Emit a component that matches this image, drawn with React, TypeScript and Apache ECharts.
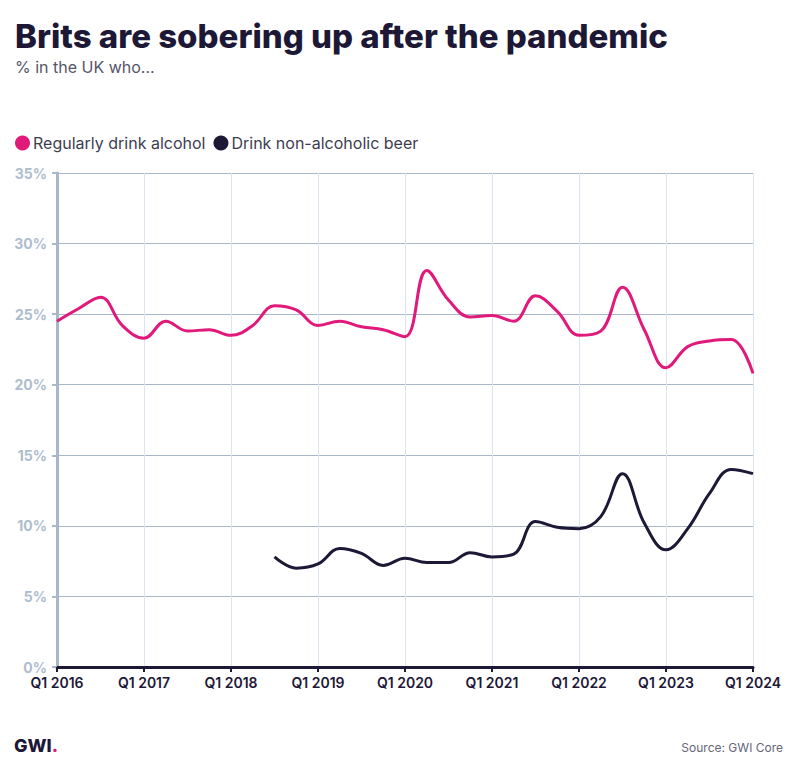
import React, { useEffect, useRef } from "react";
import * as echarts from "echarts";

const years = [2016, 2017, 2018, 2019, 2020, 2021, 2022, 2023];
const quarters: string[] = [];
years.forEach((y) => ["Q1", "Q2", "Q3", "Q4"].forEach((q) => quarters.push(`${q} ${y}`)));
quarters.push("Q1 2024");

const alcohol = [
  24.5, 25.4, 26.2, 24.2,
  23.3, 24.5, 23.8, 23.9,
  23.5, 24.2, 25.6, 25.3,
  24.2, 24.5, 24.1, 23.9,
  23.4, 28.1, 26.0, 24.8,
  24.9, 24.5, 26.3, 25.2,
  23.5, 23.8, 26.9, 23.9,
  21.2, 22.7, 23.1, 23.2,
  20.8,
];

const nonAlcBeer = [
  null, null, null, null,
  null, null, null, null,
  null, null, 7.8, 7.0,
  7.3, 8.4, 8.05, 7.2,
  7.7, 7.4, 7.4, 8.1,
  7.8, 8.0, 10.3, 9.9,
  9.8, 10.65, 13.7, 10.2,
  8.3, 9.8, 12.3, 14.0,
  13.7,
];

const seriesNames = ["Regularly drink alcohol", "Drink non-alcoholic beer"];
const yTicks = { min: 0, max: 35, interval: 5 };

const PINK = "#e0197a";
const NAVY = "#1c1836";
const FONT = "Inter, 'Noto Sans', sans-serif";

export default function App() {
  const ref = useRef<HTMLDivElement>(null);
  useEffect(() => {
    const chart = echarts.init(ref.current!, null, { renderer: "svg" });
    chart.setOption({
      animation: false,
      backgroundColor: "#ffffff",
      textStyle: { fontFamily: FONT },
      title: {
        left: 10,
        top: 14,
        text: "Brits are sobering up after the pandemic",
        subtext: "% in the UK who...",
        itemGap: 7,
        textStyle: { fontFamily: FONT, fontSize: 33, fontWeight: 800, color: NAVY },
        subtextStyle: { fontFamily: FONT, fontSize: 16, color: "#55556a" },
      },
      legend: {
        left: 10,
        top: 130,
        icon: "circle",
        itemWidth: 15,
        itemHeight: 15,
        itemGap: 8,
        textStyle: { fontFamily: FONT, fontSize: 16, color: "#3d3d50", padding: [0, 0, 0, -2] },
        data: seriesNames,
      },
      grid: { left: 57, right: 43, top: 173, bottom: 103, containLabel: false },
      xAxis: {
        type: "category",
        data: quarters,
        boundaryGap: false,
        axisLine: { show: true, lineStyle: { color: NAVY, width: 3 } },
        axisTick: { show: true, interval: 3, length: 5, lineStyle: { color: NAVY, width: 2 } },
        axisLabel: {
          interval: 3,
          margin: 8,
          color: NAVY,
          fontFamily: FONT,
          fontSize: 14,
          fontWeight: 600,
        },
        splitLine: { show: true, interval: 3, lineStyle: { color: "#dbe5f1", width: 1 } },
      },
      yAxis: {
        type: "value",
        min: yTicks.min,
        max: yTicks.max,
        interval: yTicks.interval,
        axisLine: { show: true, lineStyle: { color: "#a9b8c9", width: 3 } },
        axisTick: { show: true, length: 5, lineStyle: { color: "#a9b8c9", width: 2 } },
        axisLabel: {
          formatter: "{value}%",
          margin: 10,
          color: "#aebdcd",
          fontFamily: FONT,
          fontSize: 14,
          fontWeight: 700,
        },
        splitLine: { show: true, lineStyle: { color: "#a9b8c9", width: 1 } },
      },
      series: [
        {
          name: seriesNames[0],
          type: "line",
          data: alcohol,
          smooth: 0.4,
          symbol: "none",
          itemStyle: { color: PINK },
          lineStyle: { color: PINK, width: 3 },
          z: 3,
        },
        {
          name: seriesNames[1],
          type: "line",
          data: nonAlcBeer,
          smooth: 0.4,
          symbol: "none",
          connectNulls: false,
          itemStyle: { color: NAVY },
          lineStyle: { color: NAVY, width: 3 },
          z: 3,
        },
      ],
      graphic: [
        {
          type: "text",
          left: 14,
          top: 736,
          style: {
            text: "{a|GWI}{b|.}",
            rich: {
              a: { fontFamily: FONT, fontSize: 18, fontWeight: 800, fill: NAVY },
              b: { fontFamily: FONT, fontSize: 18, fontWeight: 800, fill: PINK },
            },
          },
        },
        {
          type: "text",
          right: 13,
          top: 741,
          style: {
            text: "Source: GWI Core",
            fontFamily: FONT,
            fontSize: 12,
            fill: "#666677",
          },
        },
      ],
    });
    return () => chart.dispose();
  }, []);
  return <div ref={ref} style={{ width: 796, height: 770, position: "absolute", left: 0, top: 0 }} />;
}
